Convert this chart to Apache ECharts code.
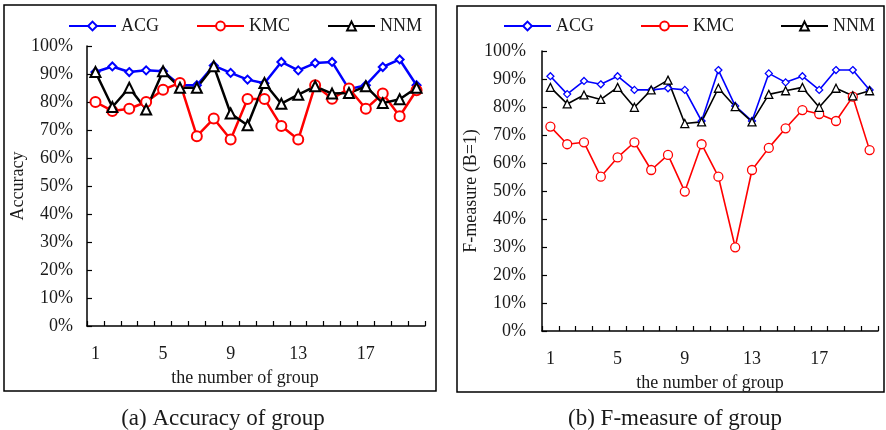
<!DOCTYPE html>
<html>
<head>
<meta charset="utf-8">
<script src="https://cdn.jsdelivr.net/npm/echarts@6/dist/echarts.min.js"></script>
<style>
  html, body { margin: 0; padding: 0; background: #fff; }
  #chart { width: 886px; height: 430px; }
</style>
</head>
<body>
<div id="chart"></div>
<script>
// Group numbers on the x axis
const groups = Array.from({ length: 20 }, (_, i) => String(i + 1));

// (a) Accuracy of group, in percent
const accACG = [90.7, 92.7, 90.7, 91.3, 91.0, 86.0, 86.0, 93.0, 90.4, 88.0, 86.7, 94.3, 91.3, 93.9, 94.3, 84.6, 86.0, 92.5, 95.2, 86.0];
const accKMC = [80.0, 76.8, 77.6, 80.0, 84.4, 86.8, 67.8, 74.1, 66.6, 81.1, 81.1, 71.4, 66.6, 86.0, 81.2, 84.8, 77.6, 83.0, 74.9, 84.2];
const accNNM = [90.7, 78.2, 85.1, 77.3, 91.0, 85.1, 85.1, 92.8, 75.9, 71.7, 86.8, 79.4, 82.6, 85.6, 83.0, 83.2, 85.6, 79.6, 81.0, 85.1];

// (b) F-measure (B=1) of group, in percent
const fmACG = [91.0, 84.6, 89.3, 88.1, 91.0, 86.1, 86.1, 86.7, 86.1, 75.0, 93.2, 80.4, 75.0, 92.0, 88.8, 91.0, 86.1, 93.2, 93.2, 86.1];
const fmKMC = [73.0, 66.7, 67.4, 55.1, 62.0, 67.4, 57.5, 62.9, 49.8, 66.7, 55.1, 29.9, 57.5, 65.4, 72.4, 78.9, 77.5, 75.0, 83.7, 64.6];
const fmNNM = [87.0, 81.1, 84.3, 82.7, 87.0, 79.9, 86.1, 89.6, 74.1, 74.7, 86.7, 80.1, 74.7, 84.5, 85.8, 87.0, 79.9, 86.7, 84.0, 85.8];

const seriesNames = ['ACG', 'KMC', 'NNM'];
const FONT = 'Liberation Serif';
const TXT = '#1a1a1a';

const styles = {
  ACG: { color: '#0000ff', symbol: 'diamond' },
  KMC: { color: '#ff0000', symbol: 'circle' },
  NNM: { color: '#000000', symbol: 'triangle' }
};

function makeSeries(name, data, idx, lw, size) {
  const s = styles[name];
  return {
    name: name,
    type: 'line',
    xAxisIndex: idx,
    yAxisIndex: idx,
    data: data,
    symbol: s.symbol,
    symbolSize: name === 'ACG' ? size - 1 : size,
    showAllSymbol: true,
    color: s.color,
    lineStyle: { color: s.color, width: lw },
    itemStyle: { color: '#fff', borderColor: s.color, borderWidth: lw * 0.8 },
    emphasis: { disabled: true },
    animation: false
  };
}

function xAxis(idx, pad) {
  return {
    type: 'category',
    gridIndex: idx,
    data: groups,
    boundaryGap: true,
    name: 'the number of group',
    nameLocation: 'middle',
    nameGap: 43,
    nameTextStyle: { fontFamily: FONT, fontSize: 18, color: TXT, padding: pad },
    axisLine: { lineStyle: { color: '#000', width: 1.5 } },
    axisTick: { show: true, inside: true, length: 5, interval: 0, lineStyle: { color: '#000', width: 1.2 } },
    axisLabel: { interval: 3, margin: 19, fontFamily: FONT, fontSize: 18, color: TXT },
    splitLine: { show: false }
  };
}

function yAxis(idx, name, gap, margin) {
  return {
    type: 'value',
    gridIndex: idx,
    min: 0,
    max: 100,
    interval: 10,
    name: name,
    nameLocation: 'middle',
    nameGap: gap,
    nameTextStyle: { fontFamily: FONT, fontSize: 18, color: TXT },
    axisLine: { show: true, lineStyle: { color: '#000', width: 1.5 } },
    axisTick: { show: true, inside: true, length: 5, lineStyle: { color: '#000', width: 1.2 } },
    axisLabel: { formatter: '{value}%', margin: margin, fontFamily: FONT, fontSize: 18, color: TXT },
    splitLine: { show: false }
  };
}

const chart = echarts.init(document.getElementById('chart'), null, { renderer: 'canvas' });

chart.setOption({
  backgroundColor: '#fff',
  animation: false,
  title: [
    { text: '(a) Accuracy of group', left: 218, top: 402, textAlign: 'center',
      textStyle: { fontFamily: FONT, fontSize: 23, fontWeight: 'normal', color: TXT } },
    { text: '(b) F-measure of group', left: 670, top: 402, textAlign: 'center',
      textStyle: { fontFamily: FONT, fontSize: 23, fontWeight: 'normal', color: TXT } }
  ],
  legend: [
    { data: seriesNames, left: 63, top: 12, itemWidth: 47, itemHeight: 11, itemGap: 37,
      textStyle: { fontFamily: FONT, fontSize: 18, color: TXT }, selectedMode: false },
    { data: seriesNames, left: 498, top: 12, itemWidth: 47, itemHeight: 11, itemGap: 46,
      textStyle: { fontFamily: FONT, fontSize: 18, color: TXT }, selectedMode: false }
  ],
  grid: [
    { left: 87, top: 46, width: 338, height: 280, containLabel: false },
    { left: 542, top: 51, width: 336, height: 280, containLabel: false }
  ],
  xAxis: [xAxis(0, [0, 22, 0, 0]), xAxis(1, [0, 0, 0, 0])],
  yAxis: [yAxis(0, 'Accuracy', 58, 14), yAxis(1, 'F-measure (B=1)', 61, 16)],
  series: [
    makeSeries('ACG', accACG, 0, 2.5, 9),
    makeSeries('KMC', accKMC, 0, 2.5, 10),
    makeSeries('NNM', accNNM, 0, 2.5, 10),
    makeSeries('ACG', fmACG, 1, 1.6, 8),
    makeSeries('KMC', fmKMC, 1, 1.6, 9),
    makeSeries('NNM', fmNNM, 1, 1.6, 8)
  ],
  graphic: [
    { type: 'rect', shape: { x: 4, y: 5, width: 432, height: 386 }, silent: true,
      style: { fill: 'none', stroke: '#000', lineWidth: 1.5 } },
    { type: 'rect', shape: { x: 457, y: 6, width: 427, height: 386 }, silent: true,
      style: { fill: 'none', stroke: '#000', lineWidth: 1.5 } }
  ]
});
</script>
</body>
</html>
